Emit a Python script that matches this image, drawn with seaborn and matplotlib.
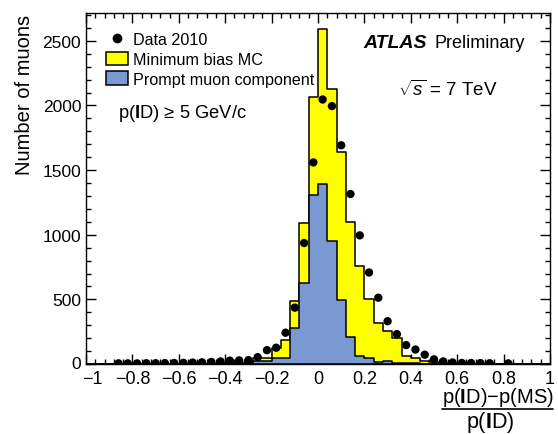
import numpy as np
import matplotlib
matplotlib.use("Agg")
import matplotlib.pyplot as plt
import matplotlib.transforms as mtransforms
from matplotlib.lines import Line2D
from matplotlib.patches import Patch
import seaborn as sns

# 50 bins of 0.04 between -1 and 1
bin_edges = np.linspace(-1, 1, 51)
bin_centers = 0.5 * (bin_edges[:-1] + bin_edges[1:])

# Minimum bias MC (total), read bin by bin
mc_total = [0, 0, 0, 0, 0, 0, 0, 0, 0, 0,
            0, 0, 2, 2, 4, 5, 6, 8, 46, 46,
            125, 183, 487, 1092, 2063, 2590, 2125, 1636, 1100, 755,
            500, 320, 254, 198, 59, 46, 26, 12, 6, 4,
            2, 0, 0, 0, 0, 0, 0, 0, 0, 0]

# prompt muon component
mc_prompt = [0, 0, 0, 0, 0, 0, 0, 0, 0, 0,
             0, 0, 1, 1, 2, 3, 4, 6, 22, 26,
             46, 50, 280, 623, 1305, 1392, 952, 498, 206, 62,
             45, 12, 22, 10, 8, 5, 3, 2, 1, 0,
             0, 0, 0, 0, 0, 0, 0, 0, 0, 0]

# Data 2010 (nan = empty bin)
nan = np.nan
data_2010 = [nan, nan, nan, 5, 5, 5, 6, 6, 7, 8,
             9, 11, 13, 16, 20, 26, 28, 30, 53, 107,
             126, 242, 436, 936, 1559, 2046, 1995, 1692, 1315, 995,
             708, 513, 331, 231, 146, 112, 72, 36, 20, 12,
             8, 8, 7, 6, nan, 5, nan, nan, nan, nan]

sns.set_style("ticks")
plt.rcParams["font.family"] = ["Liberation Sans", "DejaVu Sans"]
plt.rcParams["mathtext.fontset"] = "custom"
plt.rcParams["mathtext.rm"] = "Liberation Sans"
plt.rcParams["mathtext.it"] = "Liberation Sans:italic"
plt.rcParams["mathtext.bf"] = "Liberation Sans:bold"
plt.rcParams["text.color"] = "black"
plt.rcParams["xtick.color"] = "black"
plt.rcParams["ytick.color"] = "black"

W, H = 558, 435
fig = plt.figure(figsize=(W / 100, H / 100), dpi=100)
ax = fig.add_axes([86 / W, 70 / H, 464 / W, 351 / H])

yellow = "#ffff00"
blue = "#7b99d1"
edges = bin_edges.tolist()

sns.histplot(x=bin_centers, weights=mc_total, bins=edges, element="step",
             fill=True, color=yellow, alpha=1, edgecolor="black", linewidth=1.1,
             ax=ax, zorder=1)
sns.histplot(x=bin_centers, weights=mc_prompt, bins=edges, element="step",
             fill=True, color=blue, alpha=1, edgecolor="black", linewidth=1.1,
             ax=ax, zorder=2)

data = np.array(data_2010, dtype=float)
ok = ~np.isnan(data)
sns.scatterplot(x=bin_centers[ok], y=data[ok], color="black", s=36,
                edgecolor="none", marker="o", ax=ax, zorder=3)

ax.set_xlim(-1, 1)
ax.set_ylim(0, 2715)
ax.set_xlabel("")
ax.set_ylabel("")
ax.set_xticks(np.arange(-1, 1.01, 0.2))
ax.set_xticklabels(["\u22121", "\u22120.8", "\u22120.6", "\u22120.4", "\u22120.2",
                    "0", "0.2", "0.4", "0.6", "0.8", "1"])
ax.set_xticks(np.arange(-1, 1.01, 0.04), minor=True)
ax.set_yticks(np.arange(0, 2501, 500))
ax.set_yticks(np.arange(0, 2701, 100), minor=True)
ax.tick_params(which="both", direction="in", top=True, right=True,
               width=1, color="black", labelcolor="black")
ax.tick_params(which="major", length=7)
ax.tick_params(which="minor", length=3.6)
ax.tick_params(axis="x", pad=4, labelsize=13)
ax.tick_params(axis="y", pad=3.5, labelsize=12.5)
for s in ax.spines.values():
    s.set_linewidth(1)
    s.set_color("black")

# nudge the corner labels apart, as in the original
first_x = ax.xaxis.get_major_ticks()[0].label1
first_x.set_transform(first_x.get_transform() +
                      mtransforms.ScaledTranslation(6 / 100, 0, fig.dpi_scale_trans))
first_y = ax.yaxis.get_major_ticks()[0].label1
first_y.set_transform(first_y.get_transform() +
                      mtransforms.ScaledTranslation(0, 2 / 100, fig.dpi_scale_trans))

handles = [
    Line2D([], [], marker="o", color="black", linestyle="none", markersize=6),
    Patch(facecolor=yellow, edgecolor="black", linewidth=1.1),
    Patch(facecolor=blue, edgecolor="black", linewidth=1.1),
]
labels = ["Data 2010", "Minimum bias MC", "Prompt muon component"]
fig.legend(handles, labels, loc="upper left", bbox_to_anchor=(106 / W, 1 - 33 / H),
           bbox_transform=fig.transFigure, frameon=False, fontsize=11.6,
           handlelength=1.37, handleheight=0.93, handletextpad=0.3,
           labelspacing=0.27, borderpad=0, borderaxespad=0)

fig.text(363 / W, 1 - 43 / H, "ATLAS", fontsize=14, fontweight="bold",
         fontstyle="italic", ha="left", va="center")
fig.text(435 / W, 1 - 43 / H, "Preliminary", fontsize=13, ha="left", va="center")
fig.text(398 / W, 1 - 90 / H, r"$\sqrt{s}$ = 7 TeV", fontsize=13.5, ha="left", va="center")
fig.text(118 / W, 1 - 114 / H, "p($\\mathbf{I}$D) \u2265 5 GeV/c", fontsize=13.2,
         ha="left", va="center")

fig.text(24 / W, 1 - 15 / H, "Number of muons", fontsize=14.5, rotation=90,
         ha="center", va="top")

fig.text(498 / W, 1 - 403 / H, "p($\\mathbf{I}$D)\u2212p(MS)", fontsize=14.5,
         ha="center", va="baseline")
fig.add_artist(Line2D([442 / W, 553 / W], [1 - 410 / H, 1 - 410 / H],
                      transform=fig.transFigure, color="black", linewidth=1.2))
fig.text(490 / W, 1 - 428 / H, "p($\\mathbf{I}$D)", fontsize=15.5,
         ha="center", va="baseline")

fig.savefig("out.png", dpi=100)
